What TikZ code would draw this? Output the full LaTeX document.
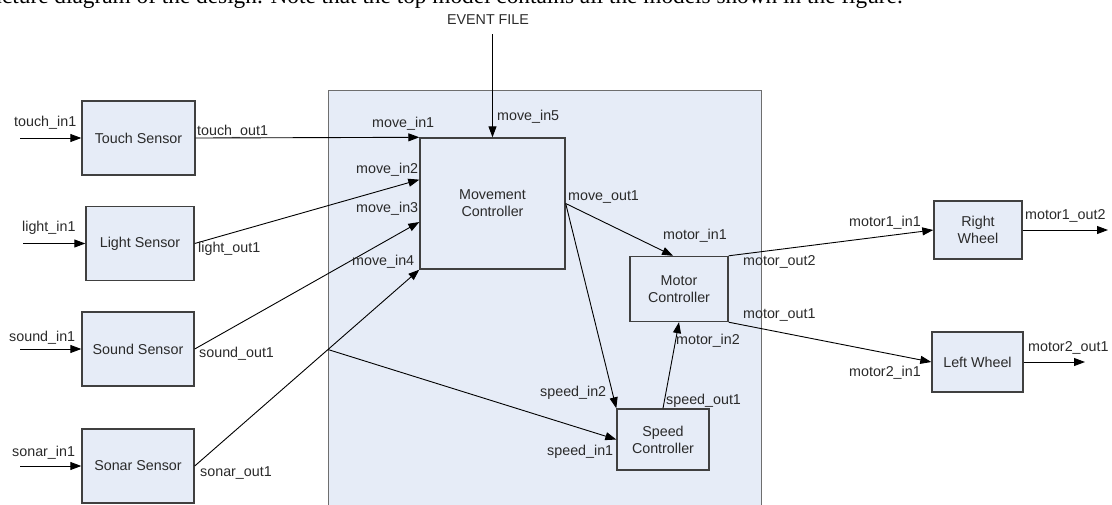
\documentclass[tikz,border=0pt]{standalone}
\usepackage{fontspec}
\setmainfont{Liberation Sans}
\newfontfamily\capfont{Liberation Serif}
\usetikzlibrary{arrows.meta,calc}
\definecolor{boxfill}{HTML}{E6ECF7}
\definecolor{boxline}{HTML}{404040}
\definecolor{topline}{HTML}{6E6E6E}
\definecolor{lbltext}{HTML}{2A2A2A}

\begin{document}
\begin{tikzpicture}[x=1pt,y=-1pt,
        every node/.style={font=\fontsize{14.3}{17}\selectfont, text=lbltext},
        block/.style={draw=boxline, line width=1.4pt, fill=boxfill, inner sep=0pt, align=center},
        portlbl/.style={anchor=west, inner sep=0pt},
        wire/.style={line width=0.9pt, -{Triangle[length=11pt,width=8pt]}}]
    \useasboundingbox (0,0) rectangle (1112,504);
    \clip (0,0) rectangle (1112,504);
        % page text above the figure, cut by the crop
        \node[anchor=base east, inner sep=0pt, font=\capfont\fontsize{23.3}{27}\selectfont, text=black] (cap) at (903,3.5)
            {shows the structure diagram of the design. Note that the top model contains all the models shown in the figure.};
        % top model
        \node[draw=topline, line width=1.4pt, fill=boxfill, anchor=north west,
            minimum width=433pt, minimum height=440pt, inner sep=0pt] (topm) at (328,90) {};
        % sensors with their inputs
        \foreach \nm/\cx/\cy/\w/\sx/\txt in {touch/138.5/138/113/20/Touch Sensor,
                light/140/243.5/108/23/Light Sensor,
                sound/138/349/112/20/Sound Sensor,
                sonar/138/466/112/20/Sonar Sensor}
            {
                \node[block, minimum width=\w pt, minimum height=74pt] (\nm) at (\cx,\cy) {\txt};
                \coordinate (\nm in) at (\sx,\cy);
                \draw[wire] (\nm in) -- (\nm.west);
            }
        % controllers and wheels
        \node[block, minimum width=145pt, minimum height=131pt] (move) at (492.5,203.5) {Movement\\Controller};
        \node[block, minimum width=98pt, minimum height=65pt] (motor) at (679,289) {Motor\\Controller};
        \node[block, minimum width=92pt, minimum height=61pt] (speed) at (663,439.5) {Speed\\Controller};
        \node[block, minimum width=88pt, minimum height=58pt] (right) at (978,230) {Right\\Wheel};
        \node[block, minimum width=91pt, minimum height=60pt] (left) at (977.5,362) {Left Wheel};
        \node (event) at (488,20) {EVENT FILE};
        % wires
        \coordinate (evt) at (492.5,34);
        \draw[wire] (evt) -- (move.north);
        \draw[wire] (touch.east) -- (move.north west);
        \draw[wire] (light.east) -- ($(move.north west)!0.32!(move.south west)$);
        \draw[wire] (sound.east) -- ($(move.north west)!0.64!(move.south west)$);
        \draw[wire] (sonar.east) -- (move.south west);
        \coordinate (split) at (intersection of sonar.east--move.south west and topm.north west--topm.south west);
        \draw[wire] (split) -- (speed.west);
        \draw[wire] (move.east) -- ($(motor.north west)!0.44!(motor.north east)$);
        \draw[wire] (move.east) -- (speed.north west);
        \draw[wire] (speed.north) -- (motor.south);
        \draw[wire] (motor.north east) -- (right.west);
        \draw[wire] (motor.south east) -- (left.west);
        \coordinate (rout) at (1108,230);
        \coordinate (lout) at (1085,362);
        \draw[wire] (right.east) -- (rout);
        \draw[wire] (left.east) -- (lout);
        % port names
        \foreach \lbl/\x/\y [count=\i] in {touch\_in1/14/123, touch\_out1/197/132,
                light\_in1/22/228, light\_out1/198/249,
                sound\_in1/9/338, sound\_out1/199/354,
                sonar\_in1/12/453, sonar\_out1/200/473,
                move\_in1/372/124, move\_in2/356/170, move\_in3/356/209,
                move\_in4/352/262, move\_in5/497/117, move\_out1/568/197,
                motor\_in1/663/236, motor\_in2/676/341,
                speed\_in1/547/452, speed\_in2/540/393, speed\_out1/666/401,
                motor\_out2/743/262, motor\_out1/743/315,
                motor1\_in1/849/223, motor2\_in1/849/373,
                motor1\_out2/1025/216, motor2\_out1/1028/348}
            \node[portlbl] (port\i) at (\x,\y) {\lbl};
\end{tikzpicture}
\end{document}
